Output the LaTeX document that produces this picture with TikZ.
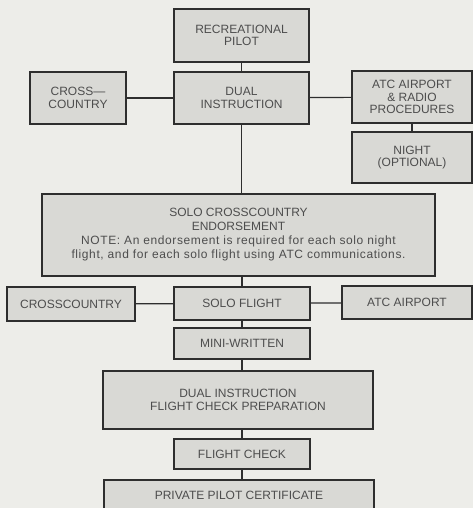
\documentclass[tikz,border=0pt]{standalone}
\usepackage{fontspec}
\setmainfont{Liberation Sans}
\usetikzlibrary{positioning}

\definecolor{paper}{HTML}{EDEDE9}
\definecolor{boxgray}{HTML}{D9D9D5}
\definecolor{ink}{HTML}{2E2E2E}

\begin{document}
\begin{tikzpicture}[x=1pt,y=-1pt,
    box/.style={draw=ink,fill=boxgray,line width=1.2pt,align=center,inner sep=1pt,
      font=\fontsize{12}{12.5}\selectfont,text=ink!85},
    link/.style={draw=ink,line width=1.2pt}]
    \fill[paper] (0,0) rectangle (473,508);
    \useasboundingbox (0,0) rectangle (473,508);

    % top part
    \node[box,minimum width=135pt,minimum height=53pt] (rec) at (241.5,35.5) {RECREATIONAL\\PILOT};
    \node[box,minimum width=135pt,minimum height=52pt] (dual) at (241.5,98) {DUAL\\INSTRUCTION};
    \node[box,minimum width=96pt,minimum height=52pt] (cross) at (78,98) {CROSS---\\COUNTRY};
    \node[box,minimum width=120pt,minimum height=52pt] (atc) at (412,97) {ATC AIRPORT\\\& RADIO\\PROCEDURES};
    \node[box,minimum width=120pt,minimum height=51pt] (night) at (412,157.5) {NIGHT\\(OPTIONAL)};
    \node[box,minimum width=393pt,minimum height=82pt,font=\fontsize{12}{14}\selectfont] (endorse) at (238.5,235)
        {SOLO CROSSCOUNTRY\\ENDORSEMENT\\
         {\addfontfeature{LetterSpace=5}NOTE: An endorsement is required for each solo night}\\
         {\addfontfeature{LetterSpace=5}flight, and for each solo flight using ATC communications.}};

    % solo row
    \node[box,minimum width=136pt,minimum height=33pt] (solo) at (242,303.5) {SOLO FLIGHT};
    \node[box,minimum width=128pt,minimum height=34pt] (crosscty) at (71,304) {CROSSCOUNTRY};
    \node[box,minimum width=130pt,minimum height=33pt] (atcair) at (407,302.5) {ATC AIRPORT};

    % bottom part
    \node[box,minimum width=136pt,minimum height=31pt] (mini) at (242,343.5) {MINI-WRITTEN};
    \node[box,minimum width=270pt,minimum height=58pt] (prep) at (238,400)
        {DUAL INSTRUCTION\\FLIGHT CHECK PREPARATION};
    \node[box,minimum width=136pt,minimum height=30pt] (check) at (242,454) {FLIGHT CHECK};
    \node[box,minimum width=270pt,minimum height=30pt] (cert) at (239,495) {PRIVATE PILOT CERTIFICATE};

    % connectors
    \draw[link] (rec) -- (dual);
    \draw[link] (cross) -- (dual);
    \draw[link] (dual) -- (atc);
    \draw[link] (atc) -- (night);
    \draw[link] (dual.south) -- (dual.south |- endorse.north);
    \draw[link] (endorse.south -| solo) -- (solo);
    \draw[link] (crosscty) -- (solo);
    \draw[link] (solo) -- (atcair);
    \draw[link] (solo) -- (mini);
    \draw[link] (mini.south) -- (mini.south |- prep.north);
    \draw[link] (prep.south -| check) -- (check);
    \draw[link] (check.south) -- (check.south |- cert.north);
\end{tikzpicture}
\end{document}
